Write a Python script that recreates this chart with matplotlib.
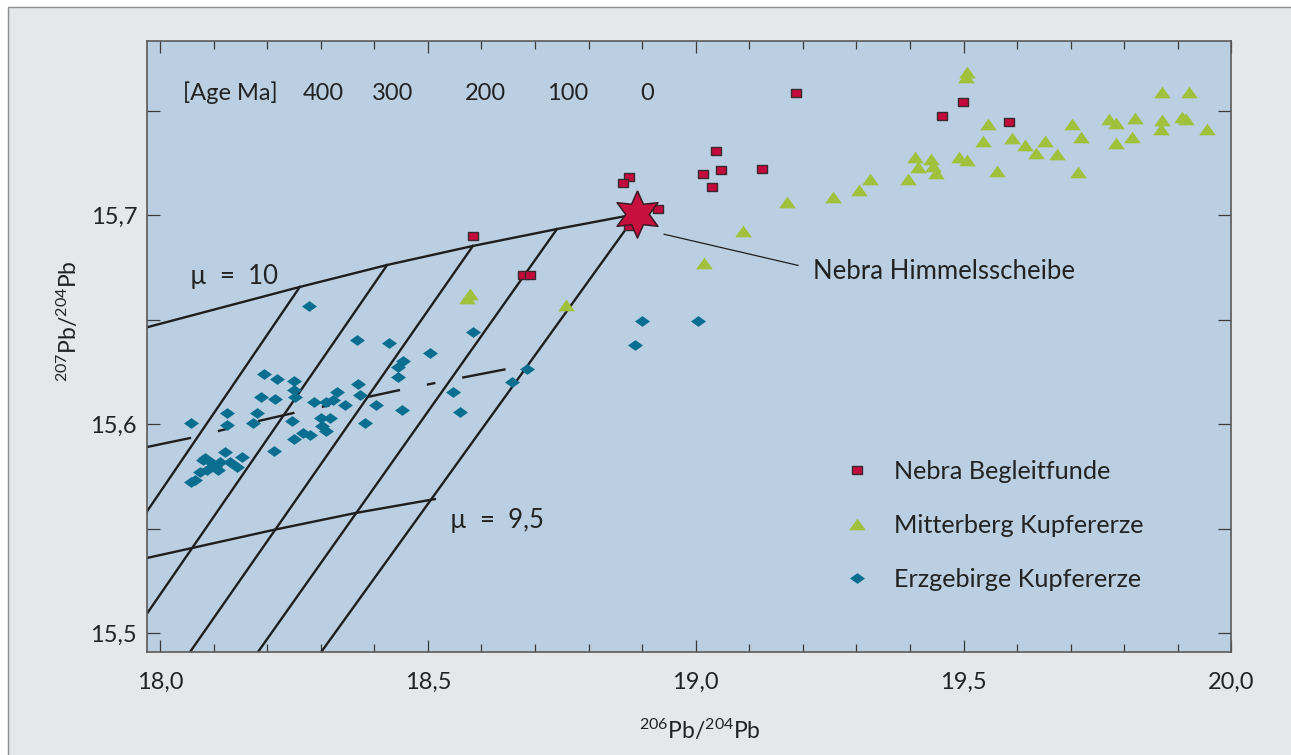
import numpy as np
import matplotlib
matplotlib.use('Agg')
import matplotlib.pyplot as plt
from matplotlib.lines import Line2D
from matplotlib.patches import Rectangle
from matplotlib.ticker import MultipleLocator, FuncFormatter

plt.rcParams['font.family'] = ['Lato', 'DejaVu Sans']
plt.rcParams['mathtext.fontset'] = 'custom'
plt.rcParams['mathtext.rm'] = 'Lato'
plt.rcParams['mathtext.it'] = 'Lato:italic'
plt.rcParams['mathtext.bf'] = 'Lato:bold'

# --- measured data (206Pb/204Pb, 207Pb/204Pb) ---
nebra_x = [18.584, 18.677, 18.690, 19.037, 18.875, 18.864, 19.013, 19.047,
           19.030, 19.123, 18.929, 18.875, 19.188, 19.498, 19.459, 19.584]
nebra_y = [15.6900, 15.6713, 15.6713, 15.7306, 15.7182, 15.7153, 15.7196, 15.7215,
           15.7134, 15.7220, 15.7029, 15.6947, 15.7584, 15.7541, 15.7474, 15.7445]

mitter_x = [18.573, 18.578, 18.757, 19.015, 19.088, 19.170, 19.256, 19.304, 19.325,
            19.504, 19.507, 19.410, 19.414, 19.397, 19.440, 19.448, 19.442, 19.491,
            19.506, 19.545, 19.537, 19.562, 19.591, 19.614, 19.636, 19.651, 19.674,
            19.703, 19.720, 19.713, 19.771, 19.784, 19.784, 19.819, 19.815, 19.871,
            19.920, 19.871, 19.869, 19.907, 19.916, 19.955]
mitter_y = [15.6603, 15.6622, 15.6569, 15.6770, 15.6923, 15.7062, 15.7086, 15.7120, 15.7172,
            15.7660, 15.7684, 15.7278, 15.7230, 15.7172, 15.7268, 15.7201, 15.7234, 15.7278,
            15.7263, 15.7435, 15.7354, 15.7211, 15.7368, 15.7335, 15.7297, 15.7354, 15.7292,
            15.7435, 15.7373, 15.7206, 15.7459, 15.7440, 15.7344, 15.7464, 15.7373, 15.7589,
            15.7589, 15.7455, 15.7411, 15.7469, 15.7459, 15.7411]

erz_x = [18.278, 18.368, 18.427, 18.504, 18.453, 18.444, 18.444, 18.584, 18.547, 18.560,
         18.657, 18.685, 18.899, 19.004, 18.886, 18.194, 18.218, 18.250, 18.250, 18.252,
         18.188, 18.215, 18.125, 18.125, 18.181, 18.174, 18.058, 18.246, 18.287, 18.310,
         18.330, 18.323, 18.345, 18.369, 18.373, 18.403, 18.451, 18.382, 18.300, 18.317,
         18.302, 18.310, 18.280, 18.267, 18.250, 18.213, 18.153,
         18.080, 18.097, 18.121, 18.112, 18.131, 18.144, 18.088, 18.075, 18.065, 18.103,
         18.058, 18.084, 18.108]
erz_y = [15.6565, 15.6402, 15.6388, 15.6340, 15.6301, 15.6273, 15.6225, 15.6440, 15.6153, 15.6057,
         15.6201, 15.6263, 15.6493, 15.6493, 15.6378, 15.6239, 15.6215, 15.6206, 15.6163, 15.6129,
         15.6129, 15.6120, 15.6053, 15.5995, 15.6053, 15.6005, 15.6005, 15.6014, 15.6105, 15.6105,
         15.6153, 15.6115, 15.6091, 15.6191, 15.6139, 15.6091, 15.6067, 15.6005, 15.6029, 15.6029,
         15.5990, 15.5967, 15.5947, 15.5957, 15.5928, 15.5871, 15.5842,
         15.5828, 15.5813, 15.5866, 15.5818, 15.5818, 15.5794, 15.5780, 15.5770, 15.5732, 15.5794,
         15.5722, 15.5837, 15.5780]

disk_x, disk_y = 18.890, 15.7005

# --- model curves ---
mu10_x = [17.970, 18.261, 18.424, 18.584, 18.741, 18.890]
mu10_y = [15.6459, 15.6656, 15.6761, 15.6852, 15.6933, 15.7005]

iso_ages = [400, 300, 200, 100, 0]
iso_lo_x = [17.9776, 17.9776, 18.0560, 18.1828, 18.3008]
iso_lo_y = [15.5589, 15.5100, 15.4909, 15.4909, 15.4909]
age_label_x = [18.304, 18.434, 18.608, 18.761, 18.909]

mu95_x = [17.970, 18.060, 18.211, 18.364, 18.513]
mu95_y = [15.5356, 15.5407, 15.5493, 15.5574, 15.5641]

mid_x = [17.970, 18.058, 18.183, 18.251, 18.448, 18.564, 18.645]
mid_y = [15.5887, 15.5934, 15.6014, 15.6054, 15.6163, 15.6222, 15.6262]
mid_pieces = [(17.970, 18.058), (18.108, 18.124), (18.183, 18.251), (18.302, 18.317),
              (18.389, 18.448), (18.498, 18.514), (18.564, 18.645)]

RED, RED_EDGE = '#C40A3C', '#3A2A30'
GREEN = '#9FC13B'
BLUE = '#096E90'
LINE = '#1E1E1E'
TXT = '#222222'

rect = [(-1, -0.72), (1, -0.72), (1, 0.72), (-1, 0.72), (-1, -0.72)]
tri = [(-1, -0.7), (1, -0.7), (0, 0.7), (-1, -0.7)]
diam = [(-1, 0), (0, 0.72), (1, 0), (0, -0.72), (-1, 0)]
ang = np.deg2rad(90 + 30 * np.arange(13))
rad = np.where(np.arange(13) % 2 == 0, 1.0, 0.5)
star = list(zip(rad * np.cos(ang), rad * np.sin(ang)))

fig = plt.figure(figsize=(12.91, 7.55), dpi=100, facecolor='white')
fig.patches.append(Rectangle((7.5 / 1291, -0.1), 1.2, 1.1 - 6.5 / 755,
                             transform=fig.transFigure, facecolor='#E6E7E9',
                             edgecolor='#8E8E8E', lw=1.0, zorder=-10))
ax = fig.add_axes([0.11425, 0.13603, 0.83966, 0.81006])
ax.set_facecolor('#BAD0E2')
ax.set_xlim(17.9767, 20.0)
ax.set_ylim(15.4908, 15.7834)

lw = 1.7
ax.plot(mu10_x, mu10_y, color=LINE, lw=lw, zorder=2)
ax.plot(mu95_x, mu95_y, color=LINE, lw=lw, zorder=2)
for i in range(len(iso_ages)):
    x0, y0 = mu10_x[i + 1], mu10_y[i + 1]
    x1 = x0 + (iso_lo_x[i] - x0) * 1.08
    y1 = y0 + (iso_lo_y[i] - y0) * 1.08
    ax.plot([x0, x1], [y0, y1], color=LINE, lw=lw, zorder=2)
for a, b in mid_pieces:
    xs = np.linspace(a, b, 10)
    ax.plot(xs, np.interp(xs, mid_x, mid_y), color=LINE, lw=lw,
            solid_capstyle='butt', zorder=2)

ax.plot(erz_x, erz_y, ls='none', marker=diam, ms=10.8, mfc=BLUE, mec='none', zorder=3)
ax.plot(mitter_x, mitter_y, ls='none', marker=tri, ms=12, mfc=GREEN, mec='none', zorder=3)
ax.plot(nebra_x, nebra_y, ls='none', marker=rect, ms=7.8, mfc=RED, mec=RED_EDGE,
        mew=1.0, zorder=4)
ax.plot([disk_x], [disk_y], ls='none', marker=star, ms=34, mfc='#C8103E',
        mec='#3A1A22', mew=1.1, zorder=5)

# annotation
ax.plot([18.941, 19.191], [15.6908, 15.6759], color=LINE, lw=0.9, zorder=2)
ax.text(19.218, 15.6692, 'Nebra Himmelsscheibe', fontsize=18.5, color=TXT, va='baseline')

ax.text(18.043, 15.7550, '[Age Ma]', fontsize=17, color=TXT, va='baseline')
for age, x in zip(iso_ages, age_label_x):
    ax.text(x, 15.7550, str(age), fontsize=17, color=TXT, va='baseline', ha='center')
ax.text(18.056, 15.6670, 'µ  =  10', fontsize=18.5, color=TXT, va='baseline')
ax.text(18.541, 15.5501, 'µ  =  9,5', fontsize=18.5, color=TXT, va='baseline')

handles = [
    Line2D([], [], ls='none', marker=rect, ms=7.8, mfc=RED, mec=RED_EDGE, mew=1.0,
           label='Nebra Begleitfunde'),
    Line2D([], [], ls='none', marker=tri, ms=12, mfc=GREEN, mec='none',
           label='Mitterberg Kupfererze'),
    Line2D([], [], ls='none', marker=diam, ms=10.8, mfc=BLUE, mec='none',
           label='Erzgebirge Kupfererze'),
]
leg = ax.legend(handles=handles, loc='upper left', bbox_to_anchor=(0.6430, 0.315),
                frameon=False, fontsize=18.2, handlelength=1.0, handletextpad=0.96,
                labelspacing=1.24, borderpad=0, borderaxespad=0)
for t in leg.get_texts():
    t.set_color(TXT)

comma = FuncFormatter(lambda v, p: f'{v:.1f}'.replace('.', ','))
ax.xaxis.set_major_locator(MultipleLocator(0.5))
ax.xaxis.set_minor_locator(MultipleLocator(0.1))
ax.yaxis.set_major_locator(MultipleLocator(0.1))
ax.yaxis.set_minor_locator(MultipleLocator(0.05))
ax.xaxis.set_major_formatter(comma)
ax.yaxis.set_major_formatter(comma)
ax.tick_params(which='both', direction='in', top=True, right=True, color='#3A3A3A',
               width=0.9, labelsize=17, labelcolor=TXT)
ax.tick_params(axis='x', which='major', length=8.6, pad=14)
ax.tick_params(axis='x', which='minor', length=6)
ax.tick_params(axis='y', which='both', length=9.3, pad=7.5)
for s in ax.spines.values():
    s.set_color('#5A5A5A')
    s.set_linewidth(1.2)

ax.set_xlabel(r'$^{\mathrm{206}}$Pb/$^{\mathrm{204}}$Pb', fontsize=16.5, color=TXT)
ax.set_ylabel(r'$^{\mathrm{207}}$Pb/$^{\mathrm{204}}$Pb', fontsize=16.5, color=TXT)
ax.xaxis.set_label_coords(0.5093, -0.1074)
ax.xaxis.label.set_va('top')
ax.yaxis.set_label_coords(-0.0613, 0.5417)

fig.savefig('out.png', dpi=100, facecolor=fig.get_facecolor())
